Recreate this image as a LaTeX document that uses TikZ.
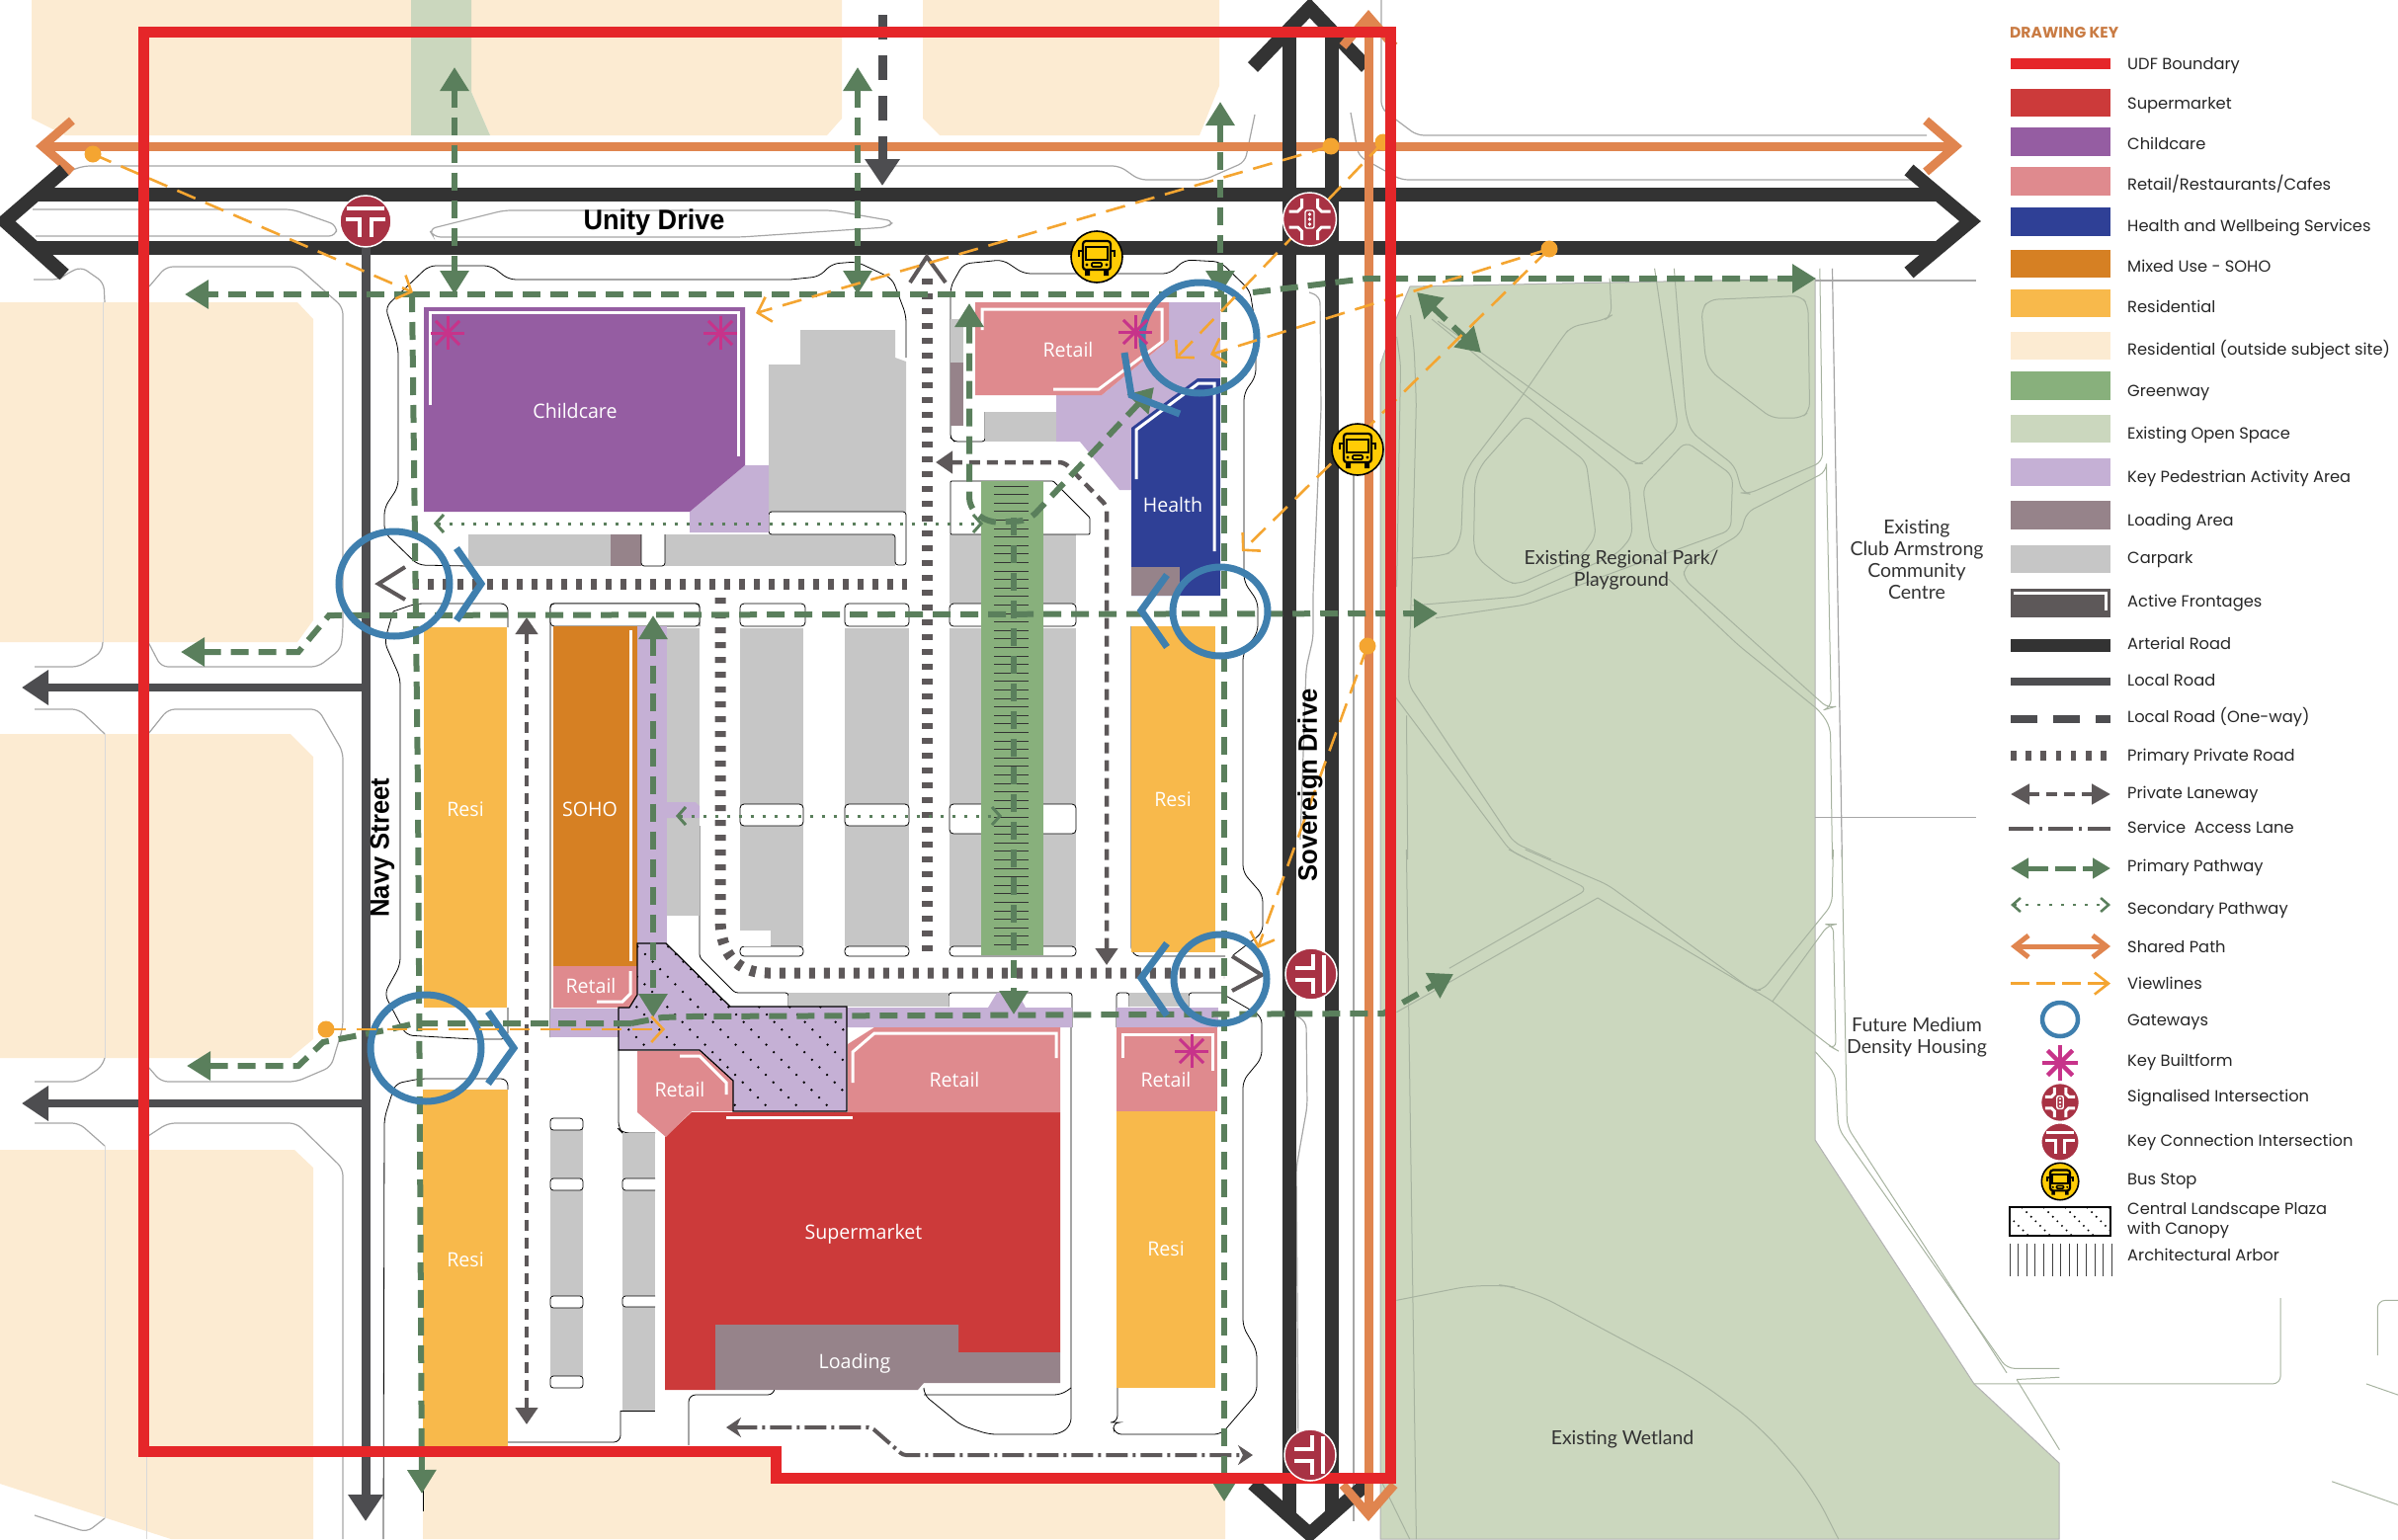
\documentclass[tikz,border=0pt]{standalone}
\usepackage{fontspec}
\usetikzlibrary{arrows.meta}
\setmainfont{Poppins}
\newfontfamily\unitfont[FakeStretch=.98]{Open Sans}
\newfontfamily\placefont{Lato}
\newfontfamily\roadfont[FakeStretch=.95]{Liberation Sans}

\definecolor{udfred}{HTML}{E52629}
\definecolor{market}{HTML}{CC3A3A}
\definecolor{childc}{HTML}{955DA2}
\definecolor{retail}{HTML}{DF8A8E}
\definecolor{health}{HTML}{2F4096}
\definecolor{sohoc}{HTML}{D68023}
\definecolor{resi}{HTML}{F8B94B}
\definecolor{resiout}{HTML}{FCEBD2}
\definecolor{greenw}{HTML}{88B07C}
\definecolor{openspace}{HTML}{CBD7BE}
\definecolor{pedarea}{HTML}{C5B0D5}
\definecolor{loadarea}{HTML}{96838A}
\definecolor{carpark}{HTML}{C6C6C6}
\definecolor{artgrey}{HTML}{333333}
\definecolor{localgrey}{HTML}{4D4D50}
\definecolor{lanegrey}{HTML}{5D5859}
\definecolor{pathgreen}{HTML}{5A7F5C}
\definecolor{sharedor}{HTML}{E0854F}
\definecolor{viewor}{HTML}{F4A531}
\definecolor{gateblue}{HTML}{3F7FAE}
\definecolor{starpink}{HTML}{C7338A}
\definecolor{junct}{HTML}{A83244}
\definecolor{busyel}{HTML}{FFCC05}
\definecolor{keyhead}{HTML}{C97B43}
\definecolor{parkline}{HTML}{A7B3A0}

\def\plazapath{(645,955) -- (674,955) -- (739,1019) -- (857,1019) -- (857,1125) -- (742,1125) -- (742,1094) -- (708,1063) -- (626,1063) -- (626,1020) -- (637,1020) -- (645,1007) -- cycle}

\begin{document}
\begin{tikzpicture}[
  x=1pt, y=-1pt,
  kerb/.style = {draw=black, line width=.8pt, rounded corners=7pt},
  edgeline/.style = {draw=black!35, line width=1.2pt, rounded corners=7pt},
  parkpath/.style = {draw=parkline, line width=1pt, rounded corners=8pt},
  frontage/.style = {draw=white, line width=3pt},
  arterial/.style = {draw=artgrey, line width=14pt},
  localroad/.style = {draw=localgrey, line width=9pt},
  roadhead/.style = {-{Triangle[length=27pt,width=34pt]}},
  privroad/.style = {draw=lanegrey, line width=11pt, dash pattern=on 6pt off 9pt},
  lanetip/.style = {draw=lanegrey, line width=4pt},
  laneway/.style = {draw=lanegrey, line width=4.5pt, dash pattern=on 11pt off 7pt, {Triangle[length=17pt,width=22pt]}-{Triangle[length=17pt,width=22pt]}},
  servlane/.style = {draw=lanegrey, line width=4pt, dash pattern=on 22pt off 5pt on 3pt off 5pt, {Stealth[length=15pt,width=20pt]}-{Stealth[length=15pt,width=20pt]}},
  primary/.style = {draw=pathgreen, line width=6pt, dash pattern=on 18pt off 10pt},
  bothtips/.style = {{Triangle[length=24pt,width=28pt]}-{Triangle[length=24pt,width=28pt]}},
  endtip/.style = {-{Triangle[length=24pt,width=28pt]}},
  secondary/.style = {draw=pathgreen, line width=3pt, dash pattern=on 3pt off 9pt, {Straight Barb[length=8pt,width=18pt]}-{Straight Barb[length=8pt,width=18pt]}},
  shared/.style = {draw=sharedor, line width=9pt, {Straight Barb[length=30pt,width=52pt]}-{Straight Barb[length=30pt,width=52pt]}},
  viewline/.style = {draw=viewor, line width=2.6pt, dash pattern=on 20pt off 11pt, -{Straight Barb[length=12pt,width=26pt]}},
  viewdot/.style = {fill=viewor},
  gateway/.style = {draw=gateblue, line width=7pt},
  unitlabel/.style = {text=white, inner sep=0pt, text height=15pt, text depth=0pt, font=\unitfont\fontsize{20}{22}\selectfont},
  placelabel/.style = {text=black!80, align=center, inner sep=0pt, font=\placefont\fontsize{19.5}{22}\selectfont},
  roadlabel/.style = {text=black, inner sep=0pt, font=\roadfont\bfseries\fontsize{27}{30}\selectfont},
  keyswatch/.style = {minimum width=101pt, minimum height=28.5pt, inner sep=0pt},
  keylabel/.style = {anchor=west, inner sep=0pt, text=black!85, text height=11pt, text depth=1pt, font=\fontsize{16.3}{20}\selectfont},
  keyintersect/.pic = {
    \fill[junct, draw=white, line width=1.5pt] (0,0) circle (26);
    \draw[white, line width=3.2pt] (-19,-13) -- (19,-13);
    \draw[white, line width=3.2pt] (-20,-2) -- (-6,-2) -- (-6,16);
    \draw[white, line width=3.2pt] (20,-2) -- (6,-2) -- (6,16);
  },
  signalcross/.pic = {
    \fill[junct, draw=white, line width=1.5pt] (0,0) circle (27);
    \foreach \sx/\sy in {1/1,-1/1,1/-1,-1/-1} {
      \draw[white, line width=3pt] (\sx*21,\sy*8) -- (\sx*12,\sy*8) -- (\sx*8,\sy*12) -- (\sx*8,\sy*21);
    }
    \draw[white, line width=1.4pt, rounded corners=2pt] (-4.5,-9) rectangle (4.5,9);
    \foreach \sy in {-5,0,5} \fill[white] (0,\sy) circle (1.8);
  },
  busstop/.pic = {
    \fill[busyel, draw=black, line width=1.6pt] (0,0) circle (26);
    \draw[black, line width=2.2pt, rounded corners=3pt] (-14,-16) rectangle (14,13);
    \draw[black, line width=1.8pt] (-11,-10) rectangle (11,3);
    \draw[black, line width=1.6pt, rounded corners=1pt] (-5,6) rectangle (5,10);
    \fill[black] (-12,13) rectangle (-7,19) (7,13) rectangle (12,19);
    \fill[black] (-10,8) circle (1.6) (10,8) circle (1.6);
    \draw[black, line width=1.8pt] (-14,-6) -- (-18,-6) -- (-18,0) (14,-6) -- (18,-6) -- (18,0);
  },
  builtform/.pic = {
    \foreach \a in {0,45,90,135} \draw[starpink] (\a:-17) -- (\a:17);
  },
  ]
  \useasboundingbox (0,0) rectangle (2427,1558);

  % surrounding land
  \fill[resiout] (32,0) -- (416,0) -- (416,137) -- (66,137) -- (32,120) -- cycle;
  \fill[resiout] (477,0) -- (852,0) -- (852,120) -- (837,137) -- (496,137) -- (477,93) -- cycle;
  \fill[resiout] (934,0) -- (1234,0) -- (1234,87) -- (1214,137) -- (951,137) -- (934,120) -- cycle;
  \fill[openspace] (416,0) -- (477,0) -- (477,93) -- (496,137) -- (416,137) -- cycle;
  \fill[resiout] (0,306) -- (301,306) -- (317,323) -- (317,628) -- (301,650) -- (0,650) -- cycle;
  \fill[resiout] (0,743) -- (294,743) -- (317,766) -- (317,1052) -- (294,1071) -- (0,1071) -- cycle;
  \fill[resiout] (0,1164) -- (298,1164) -- (317,1182) -- (317,1558) -- (173,1558) -- (0,1502) -- cycle;
  \fill[resiout] (428,1469) -- (785,1469) -- (785,1496) -- (1240,1496) -- (1240,1558) -- (428,1558) -- cycle;
  \draw[black!15, line width=1pt] (104,306) -- (104,650);
  \draw[black!15, line width=1pt] (106,743) -- (106,1071);
  \draw[black!15, line width=1pt] (106,1160) -- (106,1537);
  \draw[black!15, line width=1pt] (148,1475) -- (148,1558);
  \fill[openspace, draw=black!30, line width=1pt] (1427,290) -- (1837,282) -- (1837,1154) -- (1998,1401) -- (2084,1481) -- (2084,1558) -- (1397,1558) -- (1397,369) -- (1412,325) -- cycle;

  % park paths, traced at the scale of the park
  \begin{scope}[shift={(1380,250)}, x=.3954pt, y=-.3954pt]
    \draw[parkpath] (190,190) -- (695,555) -- (715,555) -- (805,460) -- (745,55);
    \draw[parkpath] (795,55) -- (825,430) -- (840,475) -- (950,560) -- (970,630) -- (985,632) -- (1175,550) -- (1168,55);
    \draw[parkpath] (825,498) -- (945,585) -- (940,725) -- (760,790) -- (735,760) -- (715,615) -- cycle;
    \draw[parkpath] (175,185) -- (660,580) -- (680,610) -- (688,740) -- (650,785) -- (400,895) -- (125,918);
    \draw[parkpath] (1185,575) -- (980,680) -- (965,735) -- (820,820) -- (820,850) -- (1190,1182) -- (1197,1180) -- (1185,575) -- cycle;
    \draw[parkpath] (730,800) -- (420,915) -- (185,950);
    \draw[parkpath] (415,430) -- (570,550) -- (595,740) -- (560,790) -- (400,862) -- (370,860) -- (295,800) -- (282,770) -- (285,600) -- (300,560) -- cycle;
    \draw[parkpath] (630,80) -- (635,175) -- (620,185) -- (530,205) -- (510,230) -- (400,390) -- (270,560) -- (255,600) -- (250,740) -- (230,780) -- (200,790) -- (125,797);
    \draw[parkpath] (885,135) -- (1120,125) -- (1138,150) -- (1142,420) -- (1120,438) -- (1045,438) -- (890,320) -- (875,285) -- (865,160) -- cycle;
    \draw[parkpath] (780,850) -- (960,1020) -- (1170,1190) -- (1195,1230) -- (1200,1568);
    \draw[parkpath] (120,175) -- (130,270) -- (135,400) -- (125,800) -- (115,1120) -- (385,1525) -- (480,1568);
    \draw[parkpath] (85,230) -- (95,300) -- (85,870);
    \draw[parkpath] (80,1150) -- (375,1545) -- (420,1568);
    \draw[parkpath] (110,1200) -- (113,1568);
    \draw[edgeline] (1200,55) -- (1225,1568);
    \draw[edgeline] (1155,1460) -- (1568,1460);
  \end{scope}
  \begin{scope}[shift={(1380,860)}, x=.6677pt, y=-.4452pt]
    \draw[parkpath] (220,0) -- (340,90) -- (130,270);
    \draw[parkpath] (245,0) -- (370,80) -- (590,320) -- (605,320) -- (710,125) -- (712,0);
    \draw[parkpath] (355,110) -- (50,370);
    \draw[parkpath] (355,110) -- (620,345) -- (710,450) -- (716,455) -- (712,170) -- (705,170) -- (620,345);
    \draw[parkpath] (685,460) -- (715,510) -- (720,635) -- (975,1180) -- (1055,1180);
    \draw[parkpath] (725,0) -- (733,630) -- (975,1190);
    \draw[parkpath] (990,1205) -- (1055,1200);
    \draw[parkpath] (990,1205) -- (1055,1365);
    \draw[parkpath] (925,1215) -- (1390,1215) -- (1390,1020);
    \draw[parkpath] (1537,1150) -- (1537,1025) -- (1568,1025);
    \draw[parkpath] (1520,1215) -- (1568,1240);
    \draw[parkpath] (1468,1437) -- (1568,1490);
    \draw[parkpath, rounded corners=30pt] (50,1025) -- (185,985) -- (250,1000) -- (500,1200) -- (600,1310) -- (680,1450) -- (720,1568);
    \draw[parkpath] (25,1430) -- (70,1568);
    \draw[parkpath] (65,0) -- (80,1568);
  \end{scope}

  % kerbs and medians
  \draw[edgeline] (33,212) -- (296,212) -- (341,228) -- (340,239) -- (36,239);
  \draw[edgeline] (439,240) -- (434,232) -- (510,213) -- (842,213) -- (905,224) -- (898,230) -- (750,240) -- cycle;
  \draw[edgeline] (66,175) -- (84,168) -- (1133,168) -- (1153,182) -- (1219,182) -- (1260,164) -- (1270,116);
  \draw[edgeline] (1367,114) -- (1375,158) -- (1418,182) -- (1935,182);
  \draw[edgeline] (1398,0) -- (1398,110) -- (1434,137) -- (1950,137);
  \draw[edgeline] (1837,284) -- (2000,284);
  \draw[edgeline] (34,283) -- (60,283) -- (66,278) -- (82,270) -- (105,286) -- (106,306);
  \draw[edgeline] (151,290) -- (168,270) -- (301,270) -- (347,311) -- (347,638) -- (345,657) -- (322,675) -- (163,675) -- (150,650);
  \draw[edgeline] (150,743) -- (170,718) -- (322,718) -- (347,761) -- (347,1040) -- (335,1080) -- (300,1095) -- (163,1095) -- (150,1080);
  \draw[edgeline] (150,1150) -- (170,1137) -- (300,1137) -- (347,1183) -- (347,1558);
  \draw[edgeline] (35,675) -- (80,675) -- (103,660) -- (104,650);
  \draw[edgeline] (35,718) -- (80,718) -- (106,743);
  \draw[edgeline] (35,1095) -- (80,1095) -- (103,1080) -- (106,1071);
  \draw[edgeline] (35,1137) -- (80,1137) -- (106,1160);
  \draw[edgeline] (106,1537) -- (88,1551) -- (35,1534);
  \draw[edgeline] (1325,296) -- (1336,300) -- (1337,415) -- (1329,600) -- (1329,646) -- (1322,676) -- (1316,850);
  \draw[edgeline] (1313,1029) -- (1322,1034) -- (1323,1120) -- (1312,1182) -- (1314,1470);
  \draw[edgeline] (1370,430) -- (1370,1540);
  \draw[kerb] (800,283) -- (515,283) -- (497,269) -- (434,269) -- (390,311) -- (403,352) -- (403,493) -- (389,514) -- (389,539) -- (423,572) -- (474,573);
  \draw[kerb] (800,283) -- (829,280) -- (842,267) -- (867,265) -- (903,282) -- (917,319) -- (917,362);
  \draw[kerb] (962,323) -- (962,290) -- (975,267) -- (1015,263) -- (1036,277) -- (1184,277) -- (1199,263) -- (1235,265) -- (1265,294) -- (1271,332) -- (1271,381) -- (1259,398) -- (1259,589) -- (1273,609) -- (1273,640) -- (1258,661) -- (1258,883) -- (1278,906) -- (1278,944) -- (1248,967);
  \draw[kerb] (1239,1007) -- (1277,1029) -- (1277,1071) -- (1258,1094) -- (1258,1343) -- (1272,1367) -- (1272,1410) -- (1236,1452) -- (1128,1452) -- (1126,1440) -- (1131,1440) -- (1131,1405);
  \draw[kerb] (398,619) -- (421,611) -- (514,611) -- (514,635);
  \draw[kerb] (398,619) -- (389,650) -- (405,686) -- (405,977) -- (389,1006) -- (411,1048) -- (480,1052) -- (514,1052) -- (514,1020);
  \draw[kerb] (388,1558) -- (389,1132) -- (400,1097) -- (425,1092) -- (514,1092) -- (514,1103);
  \draw[kerb] (514,1460) -- (628,1460) -- (628,1428);
  \draw[kerb] (428,1480) -- (428,1530);
  \draw[kerb] (626,1063) -- (626,1143) -- (630,1147) -- (663,1147);
  \draw[kerb] (697,1463) -- (697,1412) -- (784,1412) -- (784,1407);
  \draw[kerb] (935,1407) -- (935,1412) -- (973,1443) -- (1001,1452) -- (1072,1452) -- (1084,1443) -- (1084,1040);
  \draw[kerb] (935,1412) -- (1074,1412) -- (1084,1405);
  \draw[kerb, rounded corners=3pt] (557,1050) -- (557,611) -- (708,611) -- (708,634);
  \draw[kerb, rounded corners=3pt] (708,836) -- (708,969) -- (744,1005) -- (798,1005) -- (798,1019);
  \draw[kerb, rounded corners=3pt] (960,1019) -- (960,1005) -- (1085,1005) -- (1085,1040);
  \draw[kerb, rounded corners=3pt] (1130,1040) -- (1130,1005) -- (1143,1005) -- (1143,1019);
  \draw[kerb, rounded corners=3pt] (1203,1019) -- (1203,1005) -- (1239,1005);
  \draw[kerb, rounded corners=3pt] (1145,634) -- (1145,962) -- (1150,968) -- (1240,968);
  \draw[kerb, rounded corners=3pt] (962,323) -- (962,443) -- (966,447) -- (997,447) -- (997,417);

  % carparks
  \fill[carpark] (778,369) -- (810,369) -- (810,334) -- (906,334) -- (906,362) -- (917,366) -- (917,518) -- (778,518) -- cycle;
  \fill[carpark] (474,541) rectangle (618,573);
  \fill[loadarea] (618,541) rectangle (649,573);
  \fill[carpark] (673,541) rectangle (906,573);
  \draw[kerb, rounded corners=3pt] (649,541) -- (649,573) -- (673,573) -- (673,541);
  \draw[kerb, rounded corners=3pt, fill=white] (778,518) -- (917,518) -- (917,572) -- (906,572) -- (906,541) -- (778,541) -- cycle;
  \fill[carpark] (675,636) rectangle (708,927);
  \foreach \xa/\xb in {749/813,855/920,961/1089} {
    \fill[carpark] (\xa,636) rectangle (\xb,958);
  }
  \fill[carpark] (961,541) rectangle (1089,611);
  \foreach \xa/\xb in {557/708,749/815,855/920,961/1089} {
    \draw[kerb, rounded corners=4pt, fill=white] (\xa,611) rectangle (\xb,634);
  }
  \foreach \xa/\xb/\yb in {749/813/836,855/920/836,961/1089/844} {
    \draw[kerb, rounded corners=4pt, fill=white] (\xa,814) rectangle (\xb,\yb);
    \draw[kerb, rounded corners=4pt, fill=white] (\xa,958) rectangle (\xb,968);
  }
  \fill[white] (749,942) -- (780,942) -- (780,958) -- (749,958) -- cycle;
  \draw[kerb, rounded corners=1pt, fill=white] (962,541) -- (962,487) -- (1066,487) -- (1103,524) -- (1103,541) -- cycle;
  \fill[carpark] (962,323) rectangle (975,367);
  \fill[loadarea] (962,367) rectangle (975,431);
  \fill[carpark] (997,417) rectangle (1069,447);
  \fill[carpark] (798,1005) rectangle (960,1019);
  \fill[carpark] (1143,1005) rectangle (1203,1019);
  \foreach \sa/\sb in {1143/1193,1205/1312,1323/1393} {
    \fill[carpark] (557,\sa) rectangle (590,\sb);
  }
  \foreach \yb in {1132,1193,1312,1393} {
    \draw[kerb, rounded corners=3pt, fill=white] (557,\yb) rectangle (590,\yb+12);
  }
  \foreach \sa/\sb in {1147/1193,1205/1312,1323/1428} {
    \fill[carpark] (630,\sa) rectangle (663,\sb);
  }
  \draw[kerb, rounded corners=3pt] (663,1193) -- (630,1193) -- (630,1205) -- (663,1205);
  \draw[kerb, rounded corners=3pt] (663,1312) -- (630,1312) -- (630,1323) -- (663,1323);
  \draw[kerb, rounded corners=0pt] (628,1428) -- (663,1428);

  % greenway and arbor
  \fill[greenw] (993,487) rectangle (1056,967);
  \foreach \ya in {492,500.6,...,962} {
    \draw[black!80, line width=.8pt] (1006,\ya) -- (1041,\ya);
  }

  % built form
  \fill[pedarea] (754,471) -- (778,471) -- (778,539) -- (698,539) -- (698,518) -- cycle;
  \fill[pedarea] (1183,306) -- (1235,306) -- (1235,383) -- (1212,383) -- (1145,433) -- (1145,496) -- (1133,496) -- (1093,447) -- (1069,447) -- (1069,400) -- (1115,400) -- (1183,344) -- cycle;
  \fill[pedarea] (645,634) rectangle (675,956);
  \fill[pedarea] (675,812) -- (704,812) -- (708,816) -- (708,828) -- (675,828) -- cycle;
  \fill[pedarea] (557,1021) rectangle (626,1050);
  \fill[pedarea] (857,1020) -- (1000,1020) -- (1009,1005) -- (1030,1005) -- (1038,1020) -- (1085,1020) -- (1085,1040) -- (857,1040) -- cycle;
  \fill[pedarea] (1130,1020) rectangle (1233,1040);

  \fill[childc] (429,311) -- (754,311) -- (754,471) -- (698,518) -- (429,518) -- cycle;
  \draw[frontage] (435,410) -- (435,316) -- (747,316) -- (747,462);
  \node[unitlabel] (childcare) at (582,416) {Childcare};

  \fill[retail] (987,306) -- (1183,306) -- (1183,344) -- (1115,400) -- (987,400) -- cycle;
  \draw[frontage] (994,334) -- (994,313) -- (1176,313) -- (1176,346) -- (1112,394) -- (1066,394);
  \node[unitlabel] (retailnorth) at (1081,354) {Retail};

  \fill[health] (1145,433) -- (1212,383) -- (1235,383) -- (1235,603) -- (1145,603) -- cycle;
  \fill[loadarea] (1145,574) rectangle (1194,603);
  \draw[frontage] (1150,485) -- (1150,435) -- (1213,388) -- (1229,388) -- (1229,558);
  \node[unitlabel] (healthcentre) at (1187,511) {Health};

  \fill[resi] (429,635) rectangle (513,1020);
  \node[unitlabel] (resiwest) at (471,819) {Resi};
  \fill[resi] (428,1103) rectangle (514,1464);
  \node[unitlabel] (resisouth) at (471,1275) {Resi};
  \fill[resi] (1145,634) rectangle (1230,964);
  \node[unitlabel] (resieast) at (1187,809) {Resi};
  \fill[resi] (1130,1125) rectangle (1230,1405);
  \node[unitlabel] (resicorner) at (1180,1264) {Resi};

  \fill[sohoc] (560,634) rectangle (645,978);
  \draw[frontage] (638,638) -- (638,973);
  \node[unitlabel] (soho) at (597,819) {SOHO};
  \fill[retail] (560,978) -- (645,978) -- (645,1012) -- (637,1020) -- (560,1020) -- cycle;
  \draw[frontage] (604,1014) -- (630,1014) -- (638,1006) -- (638,983);
  \node[unitlabel] (retailsoho) at (598,998) {Retail};

  \fill[market] (700,1126) -- (1073,1126) -- (1073,1369) -- (970,1369) -- (970,1341) -- (724,1341) -- (724,1407) -- (673,1407) -- (673,1151) -- cycle;
  \fill[loadarea] (724,1341) -- (970,1341) -- (970,1369) -- (1073,1369) -- (1073,1400) -- (935,1400) -- (929,1407) -- (724,1407) -- cycle;
  \node[unitlabel] (supermarket) at (874,1247) {Supermarket};
  \node[unitlabel] (loading) at (865,1378) {Loading};

  \fill[retail] (645,1064) -- (708,1064) -- (742,1094) -- (742,1125) -- (700,1125) -- (674,1151) -- (645,1126) -- cycle;
  \draw[frontage] (688,1069) -- (708,1069) -- (735,1096) -- (735,1108);
  \node[unitlabel] (retailplaza) at (688,1103) {Retail};

  \fill[retail] (858,1057) -- (885,1040) -- (1073,1040) -- (1073,1126) -- (858,1126) -- cycle;
  \draw[frontage] (863,1096) -- (863,1065) -- (885,1046) -- (1069,1046) -- (1069,1071);
  \node[unitlabel] (retailmain) at (966,1093) {Retail};

  \fill[retail] (1130,1040) rectangle (1232,1125);
  \draw[frontage] (1136,1071) -- (1136,1047) -- (1227,1047) -- (1227,1084);
  \node[unitlabel] (retailcorner) at (1180,1093) {Retail};

  % plaza
  \fill[pedarea] \plazapath;
  \begin{scope}
    \clip \plazapath;
    \foreach \xo in {451,482,...,852} {
      \draw[black, line width=1.8pt, dash pattern=on 1.8pt off 9pt] (\xo,950) -- ++(320,320);
    }
  \end{scope}
  \draw[black, line width=1.2pt] \plazapath;
  \draw[frontage] (735,1131) -- (863,1131);

  % roads
  \draw[shared] (36,148) -- (1986,148);
  \draw[arterial] (37,196.5) -- (1962,196.5);
  \draw[arterial] (37,251) -- (1962,251);
  \draw[arterial] (65,172) -- (5,224) -- (65,278);
  \draw[arterial] (1932,172) -- (1994,224) -- (1932,276);
  \draw[arterial] (1305,28) -- (1305,1536);
  \draw[arterial] (1348,33) -- (1348,1536);
  \draw[arterial] (1268,68) -- (1325.5,8) -- (1383,68);
  \draw[arterial] (1268,1502) -- (1325.5,1553) -- (1383,1502);
  \draw[shared] (1385,10) -- (1385,1540);
  \draw[localroad, roadhead] (370,251) -- (370,1540);
  \draw[localroad, line width=8pt, roadhead] (370,696) -- (22,696);
  \draw[localroad, line width=8pt, roadhead] (370,1117) -- (22,1117);
  \draw[localroad, dash pattern=on 25pt off 16pt, roadhead] (893,15) -- (893,188);

  % private roads and lanes
  \draw[privroad] (418,591) -- (918,591);
  \draw[privroad] (938,282) -- (938,971);
  \draw[privroad] (729,605) -- (729,930) .. controls (729,965) and (745,985) .. (778,985) -- (1239,985);
  \draw[lanetip] (410,574) -- (383,591) -- (410,607);
  \draw[lanetip] (921,286) -- (938,260) -- (957,286);
  \draw[lanetip] (1247,968) -- (1277,987) -- (1247,1003);
  \draw[laneway] (533,625) -- (533,1442);
  \draw[laneway, rounded corners=5pt] (947,468) -- (1077,468) -- (1120,512) -- (1120,977);
  \draw[servlane, rounded corners=3pt] (735,1445) -- (882,1445) -- (914,1473) -- (1268,1473);

  % pathways
  \draw[primary, bothtips] (460,68) -- (460,298);
  \draw[primary, bothtips] (868,68) -- (868,298);
  \draw[primary, endtip] (417,298) -- (187,298);
  \draw[primary] (417,298) -- (1239,298);
  \draw[primary, endtip] (1268,296) -- (1383,282) -- (1838,282);
  \draw[primary, bothtips] (1235,103) -- (1235,298);
  \draw[primary, endtip] (1239,298) -- (1239,1520);
  \draw[primary, endtip] (417,298) -- (423,800) -- (427,1512);
  \draw[primary, bothtips] (183,660) -- (302,660) -- (333,623) -- (1455,621);
  \draw[primary, endtip] (639,1036) -- (420,1036) -- (395,1042) -- (327,1055) -- (302,1079) -- (189,1079);
  \draw[primary, endtip] (639,1036) -- (670,1030) -- (697,1029) -- (1400,1026) -- (1471,986);
  \draw[primary, bothtips] (661,623) -- (661,1030);
  \draw[primary, endtip] (1026,524) -- (1026,1027);
  \draw[primary, bothtips, rounded corners=10pt] (981,307) -- (981,514) -- (1000,529) -- (1041,527) -- (1168,392);
  \draw[primary, bothtips] (1434,296) -- (1499,357);
  \draw[secondary] (439,530) -- (995,530);
  \draw[secondary] (684,826) -- (1014,826);

  % gateways
  \draw[gateway] (399,591) ellipse (56 and 53);
  \draw[gateway] (462,555) -- (487,591) -- (462,628);
  \draw[gateway] (431,1061) ellipse (56 and 54);
  \draw[gateway] (494,1024) -- (520,1061) -- (494,1097);
  \draw[gateway] (1214,342) ellipse (58 and 56);
  \draw[gateway] (1138,357) -- (1145,400) -- (1194,419);
  \draw[gateway] (1235,619) ellipse (48 and 45);
  \draw[gateway] (1181,582) -- (1155,618) -- (1181,655);
  \draw[gateway] (1235,991) ellipse (47 and 45);
  \draw[gateway] (1181,955) -- (1155,990) -- (1181,1028);

  % viewlines
  \draw[viewline] (94,156) -- (418,296);
  \draw[viewline] (1347,148) -- (765,317);
  \draw[viewline] (1400,144) -- (1190,363);
  \draw[viewline] (1568,252) -- (1225,359);
  \draw[viewline] (1568,252) -- (1257,558);
  \draw[viewline] (1384,654) -- (1273,960);
  \draw[viewline] (330,1042) -- (673,1042);
  \foreach \vx/\vy in {94/156,1347/148,1400/144,1568/252,1384/654,330/1042} {
    \fill[viewdot] (\vx,\vy) circle (8.5);
  }

  % boundary
  \draw[udfred, line width=11pt, miter limit=10] (145,32) -- (1407,32) -- (1407,1496) -- (785,1496) -- (785,1469) -- (145,1469) -- cycle;

  % markers
  \pic (junctionnavy) at (370,224) {keyintersect};
  \pic[rotate=-90] (junctionmid) at (1327,986) {keyintersect};
  \pic[rotate=-90] (junctionsouth) at (1326,1473) {keyintersect};
  \pic (junctionunity) at (1325.5,222) {signalcross};
  \pic (busunity) at (1110,260) {busstop};
  \pic (bussovereign) at (1374,455) {busstop};
  \pic[line width=3pt] (starwest) at (453,337) {builtform};
  \pic[line width=3pt] (stareast) at (729,337) {builtform};
  \pic[line width=3pt] (starretail) at (1149,336) {builtform};
  \pic[line width=3pt] (starcorner) at (1206,1064) {builtform};

  % labels
  \node[roadlabel, font=\roadfont\bfseries\fontsize{28.5}{30}\selectfont] (unitydrive) at (662,225) {Unity Drive};
  \node[roadlabel, rotate=90] (navystreet) at (387,858) {Navy Street};
  \node[roadlabel, rotate=90] (sovereigndrive) at (1326,795) {Sovereign Drive};
  \node[placelabel] (regionalpark) at (1641,577) {Existing Regional Park/\\Playground};
  \node[placelabel] (clubarmstrong) at (1940,566) {Existing\\Club Armstrong\\Community\\Centre};
  \node[placelabel] (futurehousing) at (1940,1050) {Future Medium\\Density Housing};
  \node[placelabel] (wetland) at (1642,1457) {Existing Wetland};

  % drawing key
  \node[anchor=west, inner sep=0pt, text=keyhead, font=\bfseries\fontsize{15.5}{17}\selectfont] (keytitle) at (2034,33) {DRAWING KEY};
  \node[keyswatch, fill=udfred, minimum height=11pt] (swatchudf) at (2085.5,64) {};
  \foreach \col/\ys/\yt/\txt [count=\n] in {
    market/104/105/{Supermarket},
    childc/143.5/146/{Childcare},
    retail/183.5/187/{Retail/Restaurants/Cafes},
    health/224.5/229/{Health and Wellbeing Services},
    sohoc/267/270/{Mixed Use - SOHO},
    resi/307/311/{Residential},
    resiout/350/354.5/{Residential (outside subject site)},
    greenw/390.5/396/{Greenway},
    openspace/434/439.5/{Existing Open Space},
    pedarea/478/483/{Key Pedestrian Activity Area},
    loadarea/521.5/527/{Loading Area},
    carpark/566/565/{Carpark},
    lanegrey/610.5/609/{Active Frontages}
  } {
    \node[keyswatch, fill=\col] (swatch\n) at (2085.5,\ys) {};
    \node[keylabel] (label\n) at (2153,\yt) {\txt};
  }
  \draw[frontage] (2038,600) -- (2131,600) -- (2131,618);
  \foreach \yt/\txt [count=\n] in {
    65/{UDF Boundary},
    652/{Arterial Road},
    689/{Local Road},
    726/{Local Road (One-way)},
    765/{Primary Private Road},
    803.5/{Private Laneway},
    838/{Service\ \ Access Lane},
    877/{Primary Pathway},
    920.6/{Secondary Pathway},
    959/{Shared Path},
    996/{Viewlines},
    1033/{Gateways},
    1074/{Key Builtform},
    1110.5/{Signalised Intersection},
    1155/{Key Connection Intersection},
    1194/{Bus Stop},
    1271/{Architectural Arbor}
  } {
    \node[keylabel] (linelabel\n) at (2153,\yt) {\txt};
  }
  \node[anchor=west, align=left, inner sep=0pt, text=black!85, font=\fontsize{16.3}{20}\selectfont] (plazalabel) at (2153,1236) {Central Landscape Plaza\\with Canopy};

  \draw[arterial, line width=13pt] (2035,653) -- (2136,653);
  \draw[localroad, line width=8pt] (2035,690) -- (2136,690);
  \draw[localroad, line width=8pt, dash pattern=on 27pt off 16pt] (2035,727.6) -- (2136,727.6);
  \draw[privroad, line width=10pt, dash pattern=on 5.5pt off 9.7pt] (2035,765) -- (2132,765);
  \draw[laneway, {Triangle[length=19pt,width=20pt]}-{Triangle[length=19pt,width=20pt]}] (2035,804) -- (2136,804);
  \draw[lanegrey, line width=4pt, dash pattern=on 25pt off 6pt on 3pt off 6pt] (2033,838.6) -- (2136,838.6);
  \draw[primary, line width=5pt, dash pattern=on 21pt off 7pt, {Triangle[length=18pt,width=20pt]}-{Triangle[length=18pt,width=20pt]}] (2035,879) -- (2136,879);
  \draw[secondary, line width=2.5pt, {Straight Barb[length=8pt,width=14pt]}-{Straight Barb[length=8pt,width=14pt]}] (2035,916) -- (2136,916);
  \draw[shared, line width=5pt, {Straight Barb[length=14pt,width=22pt]}-{Straight Barb[length=14pt,width=22pt]}] (2035,958) -- (2136,958);
  \draw[viewline, dash pattern=on 19pt off 7pt, -{Straight Barb[length=14pt,width=22pt]}] (2035,995.6) -- (2136,995.6);
  \draw[gateway, line width=4.5pt] (2085,1032) ellipse (18 and 17);
  \pic[line width=4.5pt, scale=1.05] (keystar) at (2085,1076) {builtform};
  \pic[scale=.72] (keysignal) at (2085,1116) {signalcross};
  \pic[scale=.74] (keyjunction) at (2085,1156) {keyintersect};
  \pic[scale=.72] (keybus) at (2085,1196) {busstop};
  \begin{scope}
    \clip (2034,1222) rectangle (2136,1251);
    \foreach \xo in {1980,2002,...,2134} {
      \draw[black, line width=1.5pt, dash pattern=on 1.5pt off 5pt] (\xo,1222) -- ++(60,60);
    }
  \end{scope}
  \draw[black, line width=1.2pt] (2034,1222) rectangle (2136,1251);
  \foreach \ai in {0,...,12} {
    \draw[black!75, line width=1pt] (2034+\ai*8.6,1259) -- (2034+\ai*8.6,1292);
  }
\end{tikzpicture}
\end{document}
